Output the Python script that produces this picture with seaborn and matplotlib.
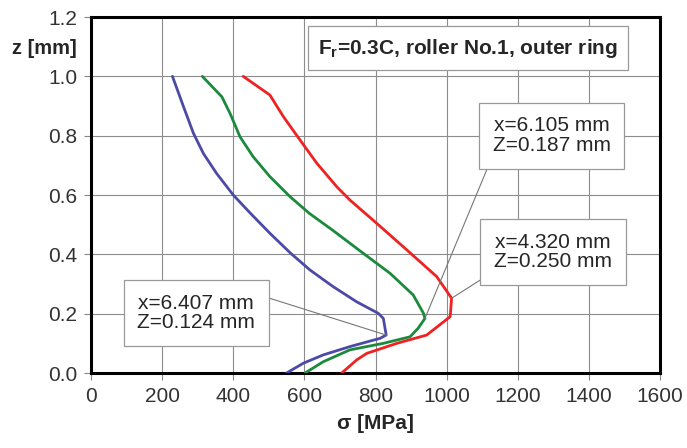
import numpy as np
import pandas as pd
import seaborn as sns
import matplotlib
matplotlib.use("Agg")
import matplotlib.pyplot as plt

# depth z [mm] and stress sigma [MPa]
z_blue = [1.0, 0.898, 0.808, 0.740, 0.673, 0.600, 0.540, 0.471, 0.403, 0.347, 0.291,
          0.240, 0.201, 0.184, 0.128, 0.117, 0.089, 0.061, 0.033, 0.0]
s_blue = [229, 260, 288, 316, 353, 400, 447, 503, 562, 616, 681,
          747, 808, 822, 830, 813, 728, 653, 597, 550]

z_green = [1.0, 0.931, 0.875, 0.796, 0.729, 0.662, 0.594, 0.538, 0.480, 0.403, 0.336,
           0.263, 0.201, 0.184, 0.151, 0.122, 0.100, 0.078, 0.038, 0.0]
s_green = [313, 368, 391, 419, 456, 503, 560, 614, 681, 766, 841,
           906, 935, 939, 920, 897, 822, 728, 653, 602]

z_red = [1.0, 0.937, 0.864, 0.785, 0.707, 0.628, 0.583, 0.505, 0.415, 0.325, 0.252,
         0.190, 0.128, 0.100, 0.066, 0.044, 0.0]
s_red = [428, 503, 541, 588, 635, 691, 728, 803, 888, 972, 1014,
         1010, 944, 860, 775, 747, 705]

series_names = ["x=6.407 mm", "x=6.105 mm", "x=4.320 mm"]
series_colors = ["#4b4ba6", "#1b8a3c", "#ee2222"]

# annotation text: (label, peak sigma, peak z, box sigma, box z)
notes = [
    ("x=6.105 mm\nZ=0.187 mm", 939, 0.184, 1296, 0.80),
    ("x=4.320 mm\nZ=0.250 mm", 1014, 0.252, 1299, 0.408),
    ("x=6.407 mm\nZ=0.124 mm", 830, 0.128, 296, 0.202),
]
title_text = r"$\mathbf{F_r}$=0.3C, roller No.1, outer ring"

x_ticks = list(range(0, 1601, 200))
y_ticks = [0.0, 0.2, 0.4, 0.6, 0.8, 1.0, 1.2]

frames = []
for name, s, z in zip(series_names, [s_blue, s_green, s_red], [z_blue, z_green, z_red]):
    frames.append(pd.DataFrame({"sigma": s, "z": z, "series": name}))
df = pd.concat(frames, ignore_index=True)

sns.set_style("white")
plt.rcParams["font.family"] = ["Liberation Sans", "DejaVu Sans"]
plt.rcParams["mathtext.fontset"] = "custom"
plt.rcParams["mathtext.bf"] = "Liberation Sans:bold"
plt.rcParams["mathtext.rm"] = "Liberation Sans"

fig = plt.figure(figsize=(6.87, 4.48), dpi=100)
ax = fig.add_axes([0.1325, 0.1674, 0.8282, 0.7946])

sns.lineplot(data=df, x="sigma", y="z", hue="series", palette=series_colors,
             sort=False, estimator=None, linewidth=2.0, legend=False, ax=ax, zorder=3)

ax.set_xlim(0, 1600)
ax.set_ylim(0, 1.2)
ax.set_xticks(x_ticks)
ax.set_yticks(y_ticks)
ax.set_xticklabels([str(t) for t in x_ticks])
ax.set_yticklabels([f"{t:.1f}" for t in y_ticks])
ax.grid(True, color="#8c8c8c", linewidth=0.8)
ax.set_axisbelow(True)
for sp in ax.spines.values():
    sp.set_color("black")
    sp.set_linewidth(2.2)
ax.tick_params(axis="both", labelsize=15, colors="#333333", length=5, width=0.8,
               direction="out", pad=5, left=True, bottom=True)
ax.tick_params(axis="both", color="#888888")

ax.set_xlabel("σ [MPa]", fontsize=15, fontweight="bold", labelpad=6)
ax.set_ylabel("")
ax.text(-0.025, 1.095, "z [mm]", transform=ax.get_yaxis_transform(),
        ha="right", va="center", fontsize=14.5, fontweight="bold")

ax.text(1060, 1.095, title_text, ha="center", va="center", fontsize=15,
        fontweight="bold", zorder=5,
        bbox=dict(boxstyle="square,pad=0.5", fc="white", ec="#999999", lw=0.9))

for label, px, pz, bx, bz in notes:
    ax.annotate(label, xy=(px, pz), xytext=(bx, bz), ha="center", va="center",
                fontsize=15, linespacing=1.05, zorder=5,
                bbox=dict(boxstyle="square,pad=0.65", fc="white", ec="#999999", lw=0.9),
                arrowprops=dict(arrowstyle="-", color="#777777", lw=0.8,
                                shrinkA=0, shrinkB=0,
                                relpos=(1.0, 1.0) if bx < 600 else (0.0, 0.0)))

fig.savefig("out.png", dpi=100)
